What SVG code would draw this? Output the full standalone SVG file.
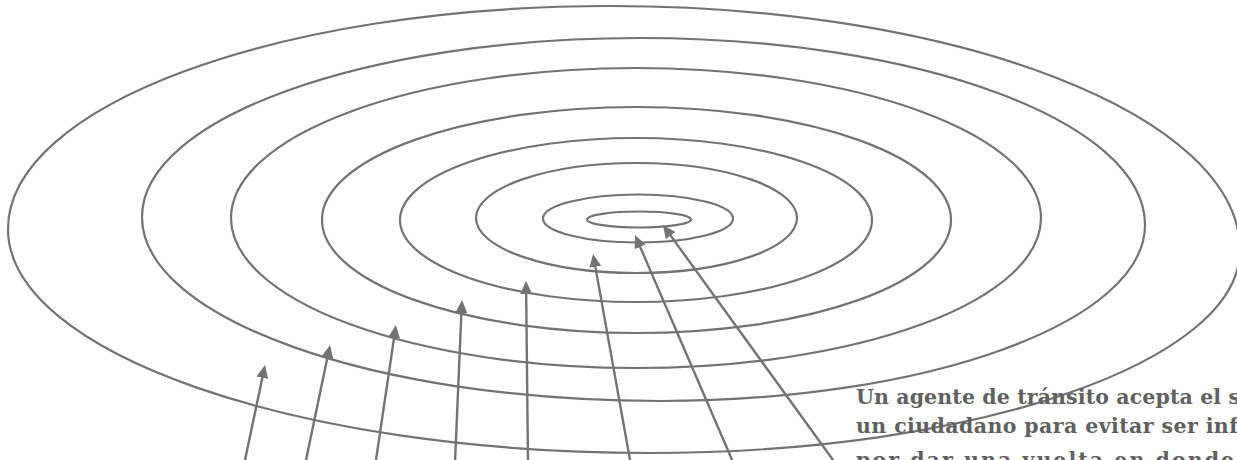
<svg xmlns="http://www.w3.org/2000/svg" width="1237" height="460" viewBox="0 0 1237 460">
  <style>
    .ring { fill: none; stroke: #737373; stroke-width: 2.2; }
    .arrow { fill: none; stroke: #737373; stroke-width: 2.4; marker-end: url(#ah); }
    .txt { font-family: "DejaVu Serif", "Liberation Serif", serif; font-size: 20.5px; font-weight: bold; fill: #606060; }
  </style>
  <defs>
    <marker id="ah" markerUnits="userSpaceOnUse" markerWidth="14" markerHeight="12" refX="7" refY="6" orient="auto">
      <path d="M0,0 L13,6 L0,12 z" fill="#737373"/>
    </marker>
  </defs>
  <rect x="0" y="0" width="1237" height="460" fill="#ffffff"/>
  <g id="rings">
    <path id="ring1" class="ring" d="M8,229 C8,105.8 277.5,6 610,6 C958,6 1240,115.2 1240,250 C1240,362.1 975.9,453 650,453 C295.4,453 8,352.7 8,229 Z"/>
    <path id="ring2" class="ring" d="M142,217 C142,118.1 364.9,38 640,38 C918.9,38 1145,121.7 1145,225 C1145,322.2 927.9,401 660,401 C373.9,401 142,318.6 142,217 Z"/>
    <ellipse id="ring3" class="ring" cx="636" cy="218" rx="405" ry="150"/>
    <ellipse id="ring4" class="ring" cx="636.5" cy="220" rx="314.5" ry="113"/>
    <ellipse id="ring5" class="ring" cx="636" cy="220" rx="236" ry="82"/>
    <ellipse id="ring6" class="ring" cx="636.5" cy="218" rx="160.5" ry="55"/>
    <ellipse id="ring7" class="ring" cx="638" cy="218.5" rx="95" ry="24"/>
    <ellipse id="ring8" class="ring" cx="639" cy="219.5" rx="52" ry="8"/>
  </g>
  <g id="connectors">
    <line class="arrow" x1="244.6" y1="462" x2="263.8" y2="370.9"/>
    <line class="arrow" x1="305.6" y1="462" x2="328.8" y2="350.9"/>
    <line class="arrow" x1="375.7" y1="462" x2="395.1" y2="330.9"/>
    <line class="arrow" x1="455" y1="462" x2="461.7" y2="306"/>
    <line class="arrow" x1="528" y1="462" x2="526.1" y2="287"/>
    <line class="arrow" x1="630.4" y1="462" x2="594.1" y2="259.9"/>
    <line class="arrow" x1="733" y1="462" x2="637.4" y2="240.5"/>
    <line class="arrow" x1="834.5" y1="462" x2="666.5" y2="229.9"/>
  </g>
  <g id="caption">
    <text class="txt" x="856" y="404" textLength="384" lengthAdjust="spacing">Un agente de tránsito acepta el s</text>
    <text class="txt" x="856" y="433" textLength="382" lengthAdjust="spacing">un ciudadano para evitar ser inf</text>
    <text class="txt" x="856" y="467" textLength="420" lengthAdjust="spacing">por dar una vuelta en donde no</text>
  </g>
</svg>
